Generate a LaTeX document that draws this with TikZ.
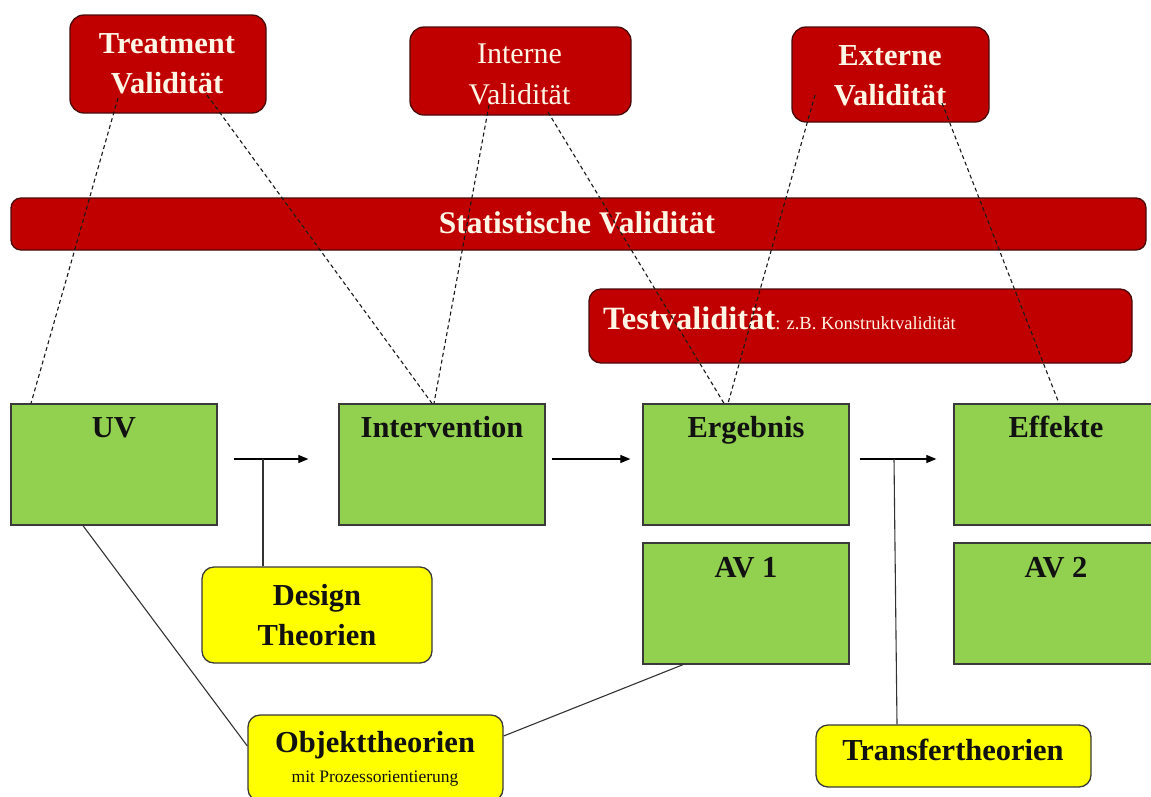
\documentclass[tikz,border=0pt]{standalone}
\usepackage{fontspec}
\setmainfont{Liberation Serif}
\usetikzlibrary{arrows.meta}
\definecolor{vred}{HTML}{C00000}
\definecolor{vredline}{HTML}{4A0A0A}
\definecolor{vgreen}{HTML}{92D050}
\definecolor{vyellow}{HTML}{FFFF00}
\definecolor{boxline}{HTML}{3A3A3A}
\definecolor{cream}{HTML}{FFF6E6}
\definecolor{ink}{HTML}{111111}
\begin{document}
\begin{tikzpicture}[x=1pt,y=-1pt,
  redbox/.style={draw=vredline, fill=vred, line width=1.3pt, rounded corners=14pt, inner sep=0pt},
  greenbox/.style={draw=boxline, fill=vgreen, line width=1.3pt, inner sep=0pt, minimum width=206pt, minimum height=121pt},
  yellowbox/.style={draw=boxline, fill=vyellow, line width=1.3pt, rounded corners=12pt, inner sep=0pt},
  redbold/.style={text=cream, font=\fontsize{30.5}{36}\selectfont\bfseries, anchor=base, inner sep=0pt},
  redplain/.style={text=cream, font=\fontsize{30}{36}\selectfont, anchor=base, inner sep=0pt},
  blackbold/.style={text=ink, font=\fontsize{30.5}{36}\selectfont\bfseries, anchor=base, inner sep=0pt},
  blackplain/.style={text=ink, font=\fontsize{17.5}{20}\selectfont, anchor=base, inner sep=0pt},
  dlink/.style={draw=black!90, line width=1.1pt, dash pattern=on 4pt off 3pt},
  slink/.style={draw=black!80, line width=1.1pt},
  arr/.style={draw=black, line width=1.2pt, -{Triangle[length=10pt,width=8pt]}}
]
\useasboundingbox (0,0) rectangle (1151,796);
\fill[white] (0,0) rectangle (1151,796);

% red boxes
\node[redbox, minimum width=196pt, minimum height=98pt] (treat) at (168,64) {};
\node[redbox, minimum width=221pt, minimum height=88pt] (intern) at (520.5,71) {};
\node[redbox, minimum width=197pt, minimum height=95pt] (extern) at (890.5,74.5) {};
\node[redbox, rounded corners=10pt, minimum width=1135pt, minimum height=52pt] (stat) at (578.5,224) {};
\node[redbox, rounded corners=12pt, minimum width=543pt, minimum height=74pt] (test) at (860.5,326) {};

\node[redbold] (treatA) at (167,53) {Treatment};
\node[redbold] (treatB) at (167,93) {Validität};
\node[redplain] (internA) at (519.5,63) {Interne};
\node[redplain] (internB) at (519.5,104) {Validität};
\node[redbold] (externA) at (890,65) {Externe};
\node[redbold] (externB) at (890,105) {Validität};
\node[redbold, font=\fontsize{31.5}{36}\selectfont\bfseries] (statT) at (577,233) {Statistische Validität};
\node[anchor=base west, text=cream, inner sep=0pt] (testT) at (603,329)
  {\fontsize{32.5}{38}\selectfont\bfseries Testvalidität\fontsize{18.5}{20}\selectfont\mdseries: z.B. Konstruktvalidität};

% green boxes
\node[greenbox] (uv) at (114,464.5) {};
\node[greenbox] (interv) at (442,464.5) {};
\node[greenbox] (erg) at (746,464.5) {};
\node[greenbox] (eff) at (1057,464.5) {};
\node[greenbox] (av1) at (746,603.5) {};
\node[greenbox] (av2) at (1057,603.5) {};

\node[blackbold] (uvT) at (114,437) {UV};
\node[blackbold] (intervT) at (442,437) {Intervention};
\node[blackbold] (ergT) at (746,437) {Ergebnis};
\node[blackbold] (effT) at (1056,437) {Effekte};
\node[blackbold] (av1T) at (746,577) {AV 1};
\node[blackbold] (av2T) at (1056,577) {AV 2};

% yellow boxes
\node[yellowbox, minimum width=230pt, minimum height=96pt] (design) at (317,615) {};
\node[yellowbox, minimum width=255pt, minimum height=86pt] (objekt) at (375.5,758) {};
\node[yellowbox, minimum width=275pt, minimum height=62pt] (transfer) at (953.5,756) {};

\node[blackbold] (designA) at (317,605) {Design};
\node[blackbold] (designB) at (317,645) {Theorien};
\node[blackbold] (objektA) at (375,752) {Objekttheorien};
\node[blackplain] (objektB) at (375,782) {mit Prozessorientierung};
\node[blackbold] (transferT) at (953,760) {Transfertheorien};

% arrows between boxes
\coordinate (j1) at (263,459);
\coordinate (j2) at (894,459);
\draw[arr] ([xshift=16pt,yshift=5.5pt]uv.east) -- ([xshift=-30pt,yshift=5.5pt]interv.west);
\draw[arr] ([xshift=6pt,yshift=5.5pt]interv.east) -- ([xshift=-12pt,yshift=5.5pt]erg.west);
\draw[arr] ([xshift=10pt,yshift=5.5pt]erg.east) -- ([xshift=-17pt,yshift=5.5pt]eff.west);
\draw[slink] (design.north -| j1) -- (j1);
\draw[slink] (j2) -- ([xshift=-56.5pt]transfer.north);

% solid theory links
\draw[slink] ([xshift=-31pt]uv.south) -- ([yshift=12pt]objekt.west);
\draw[slink] ([xshift=-63pt]av1.south) -- ([yshift=22pt]objekt.east);

% dashed validity links
\draw[dlink] ([xshift=-50pt,yshift=-34pt]treat.center) -- ([xshift=-83pt]uv.north);
\draw[dlink] ([xshift=39pt,yshift=-31pt]treat.center) -- ([xshift=-10pt]interv.north);
\draw[dlink] ([xshift=-31.5pt,yshift=-34pt]intern.center) -- ([xshift=-8pt]interv.north);
\draw[dlink] ([xshift=27.5pt,yshift=-41pt]intern.center) -- ([xshift=-22pt]erg.north);
\draw[dlink] ([xshift=-75.5pt,yshift=-20.5pt]extern.center) -- ([xshift=-18pt]erg.north);
\draw[dlink] ([xshift=51.5pt,yshift=-28.5pt]extern.center) -- ([xshift=2pt]eff.north);
\end{tikzpicture}
\end{document}
